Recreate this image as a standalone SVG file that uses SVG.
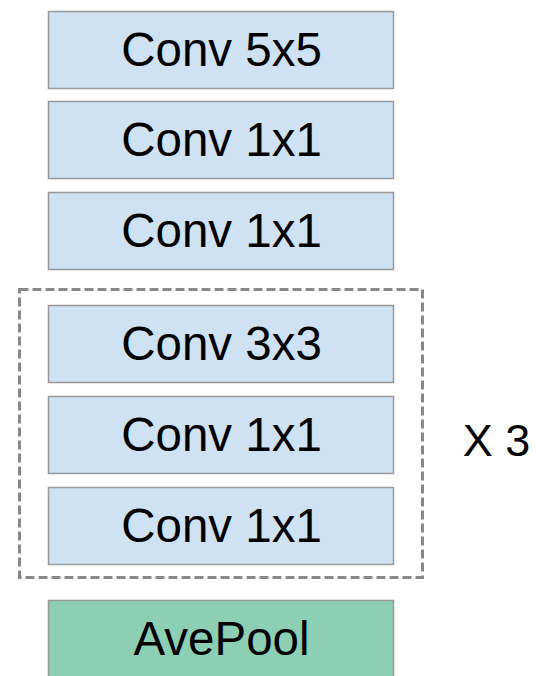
<svg xmlns="http://www.w3.org/2000/svg" width="536" height="676" viewBox="0 0 536 676">
  <style>
    .box { fill: #cfe2f3; stroke: #999999; stroke-width: 1.5; }
    .pool { fill: #8dcfb4; stroke: #999999; stroke-width: 1.5; }
    .lbl { font-family: "Liberation Sans", Arial, sans-serif; font-size: 47.5px; fill: #000000; text-anchor: middle; }
    .rep-lbl { font-family: "Liberation Sans", Arial, sans-serif; font-size: 45px; fill: #000000; text-anchor: middle; }
    .rep { fill: none; stroke: #888888; stroke-width: 3; stroke-dasharray: 9 4; }
  </style>
  <rect width="536" height="676" fill="#ffffff"/>
  <g id="connectors"></g>
  <!-- dashed frame around the repeated block -->
  <g id="repeat-block">
    <rect class="rep" x="19.5" y="289.5" width="403" height="288"/>
  </g>
  <g id="conv5x5">
    <rect class="box" x="48.5" y="11.5" width="345" height="77"/>
    <text class="lbl" x="221.5" y="66">Conv 5x5</text>
  </g>
  <g id="conv1x1-a">
    <rect class="box" x="48.5" y="101.5" width="345" height="77"/>
    <text class="lbl" x="221.5" y="156">Conv 1x1</text>
  </g>
  <g id="conv1x1-b">
    <rect class="box" x="48.5" y="192.5" width="345" height="77"/>
    <text class="lbl" x="221.5" y="247">Conv 1x1</text>
  </g>
  <g id="conv3x3">
    <rect class="box" x="48.5" y="305.5" width="345" height="77"/>
    <text class="lbl" x="221.5" y="360">Conv 3x3</text>
  </g>
  <g id="conv1x1-c">
    <rect class="box" x="48.5" y="396.5" width="345" height="77"/>
    <text class="lbl" x="221.5" y="451">Conv 1x1</text>
  </g>
  <g id="conv1x1-d">
    <rect class="box" x="48.5" y="487.5" width="345" height="77"/>
    <text class="lbl" x="221.5" y="542">Conv 1x1</text>
  </g>
  <g id="avepool">
    <rect class="pool" x="48.5" y="600.5" width="345" height="77"/>
    <text class="lbl" x="221.5" y="655">AvePool</text>
  </g>
  <g id="repeat-label">
    <text class="rep-lbl" x="496.5" y="456">X 3</text>
  </g>
</svg>
